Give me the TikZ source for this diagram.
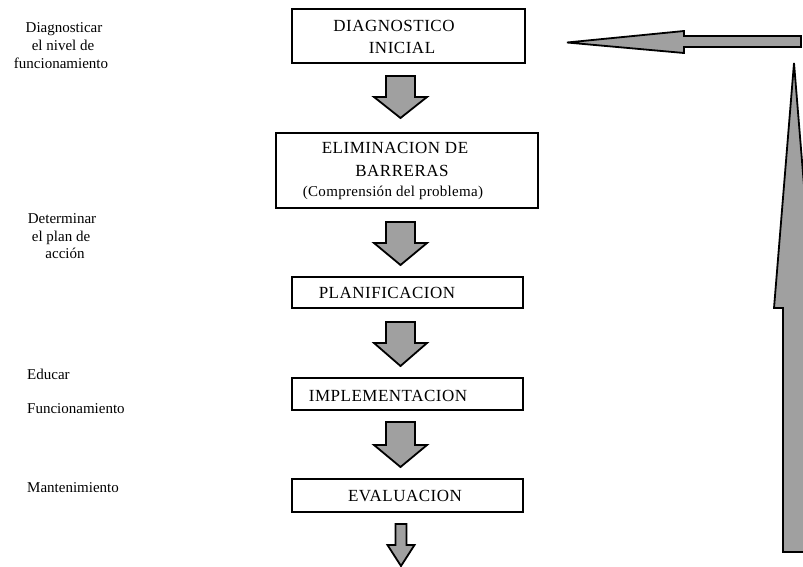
\documentclass[tikz,border=0pt]{standalone}
\usepackage{fontspec}
\setmainfont{Liberation Serif}
\newfontfamily\boxfont[LetterSpace=3]{Liberation Serif}
\newfontfamily\labfont[LetterSpace=0]{Liberation Serif}
\newfontfamily\subfont[LetterSpace=2]{Liberation Serif}
\definecolor{arrowgray}{RGB}{160,160,160}
\newcommand\blockdown[6]{%
  \draw[barrow] ({#1-#5},#2) -- ({#1+#5},#2) -- ({#1+#5},#3) -- ({#1+#6},#3)
    -- (#1,#4) -- ({#1-#6},#3) -- ({#1-#5},#3) -- cycle;}
\begin{document}
\begin{tikzpicture}[x=1pt,y=-1pt,
  box/.style={draw=black, line width=2pt, rectangle, inner sep=0pt},
  btext/.style={font=\boxfont\fontsize{17}{17}\selectfont, anchor=base, inner sep=0pt},
  stext/.style={font=\subfont\fontsize{15}{15}\selectfont, anchor=base, inner sep=0pt},
  lab/.style={font=\labfont\fontsize{15}{15}\selectfont, anchor=base, inner sep=0pt},
  labw/.style={lab, anchor=base west},
  barrow/.style={draw=black, line width=1.8pt, fill=arrowgray, line join=miter}]
\useasboundingbox (0,0) rectangle (803,566);
\fill[white] (0,0) rectangle (803,566);
\begin{scope}
\clip (0,0) rectangle (803,566);
% boxes
\node[box, minimum width=233pt, minimum height=54pt] (diag) at (408.5,36) {};
\node[box, minimum width=262pt, minimum height=75pt] (elim) at (407,170.5) {};
\node[box, minimum width=231pt, minimum height=31pt] (plan) at (407.5,292.5) {};
\node[box, minimum width=231pt, minimum height=32pt] (impl) at (407.5,394) {};
\node[box, minimum width=231pt, minimum height=33pt] (eval) at (407.5,495.5) {};
% box texts
\node[btext] (t1a) at (394,31) {DIAGNOSTICO};
\node[btext] (t1b) at (402,53) {INICIAL};
\node[btext] (t2a) at (395,153) {ELIMINACION DE};
\node[btext] (t2b) at (402,176) {BARRERAS};
\node[stext] (t2c) at (393,196) {(Comprensión del problema)};
\node[btext] (t3) at (387,298) {PLANIFICACION};
\node[btext] (t4) at (388,401) {IMPLEMENTACION};
\node[btext] (t5) at (405,501) {EVALUACION};
% block arrows between boxes
\blockdown{400.5}{76}{97}{118}{14.5}{26.5}
\blockdown{400.5}{222}{243}{265}{14.5}{26.5}
\blockdown{400.5}{322}{343}{366}{14.5}{26.5}
\blockdown{400.5}{422}{445}{467}{14.5}{26.5}
\blockdown{401}{524}{545}{566}{5.5}{13.5}
% return arrows
\draw[barrow] (801,36) -- (684,36) -- (684,31) -- (567,42.5) -- (684,53) -- (684,47) -- (801,47) -- cycle;
\draw[barrow] (783,552) -- (783,308) -- (774,308) -- (794,63) -- (814,308) -- (805,308) -- (805,552) -- cycle;
% left labels
\node[lab] (l1a) at (64,32) {Diagnosticar};
\node[lab] (l1b) at (63,50) {el nivel de};
\node[lab] (l1c) at (61,68) {funcionamiento};
\node[lab] (l2a) at (62,223) {Determinar};
\node[lab] (l2b) at (61,241) {el plan de};
\node[lab] (l2c) at (65,258) {acción};
\node[labw] (l3) at (27,379) {Educar};
\node[labw] (l4) at (27,413) {Funcionamiento};
\node[labw] (l5) at (27,492) {Mantenimiento};
\end{scope}
\end{tikzpicture}
\end{document}
